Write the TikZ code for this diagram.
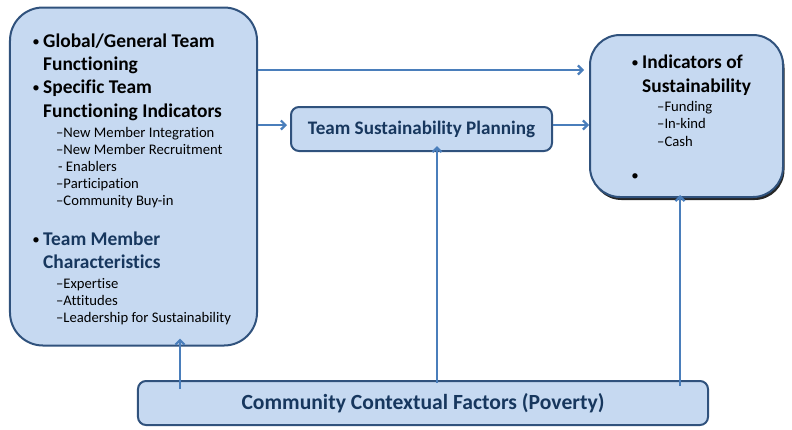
\documentclass[tikz,border=0pt]{standalone}
\usepackage{fontspec}
\setmainfont{Carlito}[Ligatures={NoCommon}]
\usetikzlibrary{arrows.meta,shadows}
\definecolor{boxfill}{HTML}{C6D9F1}
\definecolor{boxline}{HTML}{30527D}
\definecolor{arrowblue}{HTML}{4A7EBB}
\definecolor{navy}{HTML}{17375E}
\tikzset{
  panel/.style={draw=boxline, line width=2bp, fill=boxfill, inner sep=0pt},
  flow/.style={draw=arrowblue, line width=2.2bp, -{Straight Barb[length=4.5bp,width=9bp,line width=2.2bp]}},
  head/.style={anchor=base west, inner sep=0pt, font=\fontsize{19.5}{23}\selectfont\bfseries},
  sub/.style={anchor=base west, inner sep=0pt, font=\fontsize{14.7}{17}\selectfont},
  dot/.style={anchor=base, inner sep=0pt, font=\fontsize{15}{18}\selectfont},
}
\begin{document}
\begin{tikzpicture}[x=1bp,y=-1bp]
\useasboundingbox (0,0) rectangle (792,429);

% boxes
\node[panel, rounded corners=33bp, minimum width=247bp, minimum height=338bp] (left) at (133.5,176.5) {};
\node[panel, rounded corners=30bp, minimum width=193bp, minimum height=162bp,
      drop shadow={shadow xshift=1.5bp, shadow yshift=-3bp, fill=black, opacity=0.85}] (right) at (686.5,116) {};
\node[panel, rounded corners=8bp, minimum width=261bp, minimum height=44bp] (tsp) at (421.5,129) {};
\node[panel, rounded corners=8bp, minimum width=570bp, minimum height=44bp] (bottom) at (423,403) {};

% box texts
\node[font=\fontsize{19.2}{23}\selectfont\bfseries, text=navy, inner sep=0pt] (tsptext) at (tsp.center) {Team Sustainability Planning};
\node[font=\fontsize{21.7}{26}\selectfont\bfseries, text=navy, inner sep=0pt] (bottomtext) at (bottom.center) {Community Contextual Factors (Poverty)};

% left panel
\node[dot] (b1) at (36,46) {•};
\node[head] (h1) at (43,47) {Global/General Team};
\node[head] (h2) at (43,70) {Functioning};
\node[dot] (b2) at (36,92) {•};
\node[head] (h3) at (43,93) {Specific Team};
\node[head] (h4) at (43,117) {Functioning Indicators};
\node[sub] (s1) at (56,137) {–New Member Integration};
\node[sub] (s2) at (56,154) {–New Member Recruitment};
\node[sub] (s3) at (58,171) {- Enablers};
\node[sub] (s4) at (56,188) {–Participation};
\node[sub] (s5) at (56,205) {–Community Buy-in};
\node[dot] (b3) at (36,244) {•};
\node[head, text=navy] (h5) at (43,245) {Team Member};
\node[head, text=navy] (h6) at (43,268) {Characteristics};
\node[sub] (s6) at (56,288) {–Expertise};
\node[sub] (s7) at (56,305) {–Attitudes};
\node[sub] (s8) at (56,322) {–Leadership for Sustainability};

% right panel
\node[dot] (b4) at (635,67) {•};
\node[head] (r1) at (642,68) {Indicators of};
\node[head] (r2) at (642,92) {Sustainability};
\node[sub] (r3) at (657,111) {–Funding};
\node[sub] (r4) at (657,128) {–In-kind};
\node[sub] (r5) at (657,146) {–Cash};
\node[dot] (b5) at (635,180) {•};

% connectors
\draw[flow] (left.east |- 0,70) -- ([xshift=-5bp]right.west |- 0,70);
\draw[flow] (left.east |- 0,125) -- ([xshift=-3bp]tsp.west |- 0,125);
\draw[flow] (tsp.east |- 0,125) -- (right.west |- 0,125);
\draw[flow] ([yshift=-3bp]bottom.north -| 437,0) -- ([yshift=6bp]tsp.south -| 437,0);
\draw[flow] ([yshift=-6bp]bottom.north -| 680,0) -- ([yshift=3bp]right.south -| 680,0);
\draw[flow] ([yshift=-9bp]bottom.north -| 180,0) -- ([yshift=8bp]left.south -| 180,0);
\end{tikzpicture}
\end{document}
